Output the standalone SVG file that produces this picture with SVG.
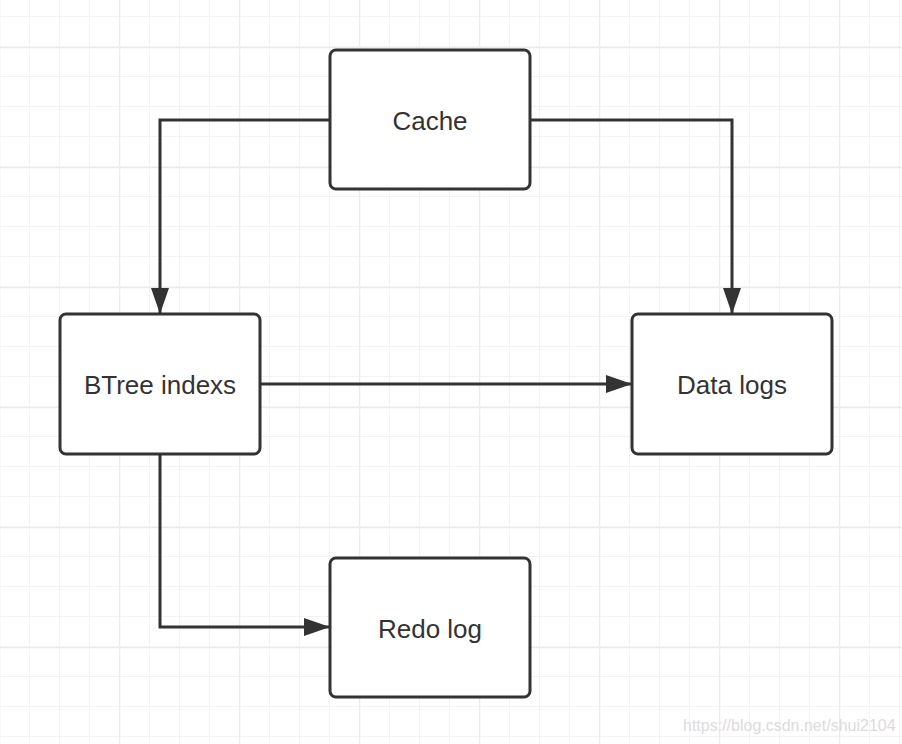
<svg xmlns="http://www.w3.org/2000/svg" width="902" height="744" viewBox="0 0 902 744">
<defs>
<pattern id="minor" x="29" y="16" width="30" height="30" patternUnits="userSpaceOnUse">
<path d="M0 0V30M0 0H30" fill="none" stroke="#f3f3f3" stroke-width="2"/>
</pattern>
<pattern id="major" x="119" y="47" width="120" height="120" patternUnits="userSpaceOnUse">
<path d="M0 0V120M0 0H120" fill="none" stroke="#ebebeb" stroke-width="2.5"/>
</pattern>
<marker id="arr" viewBox="0 0 26 18" refX="26" refY="9" markerWidth="26" markerHeight="18" markerUnits="userSpaceOnUse" orient="auto">
<path d="M0 0L26 9L0 18Z" fill="#333"/>
</marker>
</defs>
<style>
.box{fill:#fff;stroke:#333;stroke-width:3}
.lbl{font-family:"Liberation Sans",Arial,sans-serif;font-size:26px;fill:#333;text-anchor:middle}
.edge{fill:none;stroke:#333;stroke-width:3}
</style>
<rect width="902" height="744" fill="#fff"/>
<rect width="902" height="744" fill="url(#minor)"/>
<rect width="902" height="744" fill="url(#major)"/>
<g id="connectors">
<path class="edge" d="M330 120H160V314" marker-end="url(#arr)"/>
<path class="edge" d="M530 120H732V314" marker-end="url(#arr)"/>
<path class="edge" d="M260 384H632" marker-end="url(#arr)"/>
<path class="edge" d="M160 454V627H330" marker-end="url(#arr)"/>
</g>
<g id="cache">
<rect class="box" x="330" y="50" width="200" height="139" rx="6"/>
<text class="lbl" x="430" y="130">Cache</text>
</g>
<g id="btree">
<rect class="box" x="60" y="314" width="200" height="140" rx="6"/>
<text class="lbl" x="160" y="394">BTree indexs</text>
</g>
<g id="datalogs">
<rect class="box" x="632" y="314" width="200" height="140" rx="6"/>
<text class="lbl" x="732" y="394">Data logs</text>
</g>
<g id="redolog">
<rect class="box" x="330" y="558" width="200" height="139" rx="6"/>
<text class="lbl" x="430" y="638">Redo log</text>
</g>
<text x="683" y="731" font-family="'Liberation Sans',Arial,sans-serif" font-size="16" fill="#dcdcdc">https://blog.csdn.net/shui2104</text>
</svg>
